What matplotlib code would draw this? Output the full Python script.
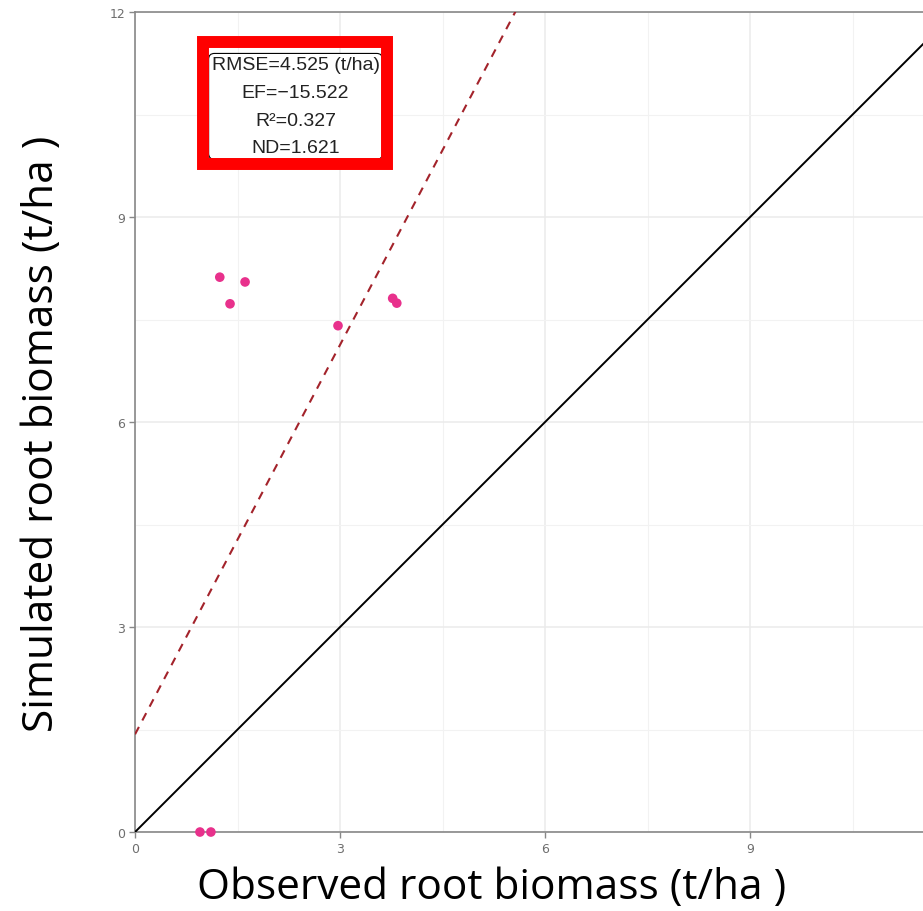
import matplotlib.pyplot as plt
import numpy as np
from matplotlib.patches import Rectangle

# observed vs simulated root biomass (t/ha)
obs = [1.24, 1.61, 1.39, 2.97, 3.77, 3.83, 0.95, 1.11]
sim = [8.12, 8.05, 7.73, 7.41, 7.81, 7.74, 0.0, 0.0]

# fitted line (dashed)
fit_intercept = 1.43
fit_slope = 1.90

stats_lines = ["RMSE=4.525 (t/ha)", "EF=\u221215.522", "R\u00b2=0.327", "ND=1.621"]
ticks = [0, 3, 6, 9, 12]
minor_ticks = [1.5, 4.5, 7.5, 10.5]

fig = plt.figure(figsize=(9.23, 9.12), dpi=100)
ax = fig.add_axes([0.1463, 0.0866, 0.8537, 0.8991])
ax.set_xlim(0, 11.53)
ax.set_ylim(0, 12)

ax.set_xticks(ticks[:4])
ax.set_yticks(ticks)
ax.set_xticks(minor_ticks, minor=True)
ax.set_yticks(minor_ticks, minor=True)
ax.grid(which='major', color='#ebebeb', lw=1.1)
ax.grid(which='minor', color='#f2f2f2', lw=0.8)
ax.set_axisbelow(True)
ax.tick_params(which='minor', length=0)
ax.tick_params(which='major', length=4, width=1, color='#888888',
               labelcolor='#6e6e6e', labelsize=9, pad=3)
for s in ['left', 'bottom', 'top']:
    ax.spines[s].set_color('#888888')
    ax.spines[s].set_linewidth(1.2)
ax.spines['right'].set_visible(False)

xx = np.array([0, 13])
ax.plot(xx, xx, color='black', lw=1.4, zorder=3)
ax.plot(xx, fit_intercept + fit_slope * xx, color='#a3232b', lw=1.5,
        ls=(0, (4, 3.5)), zorder=3)
ax.scatter(obs, sim, s=48, color='#e8318c', edgecolors='none', zorder=4,
           clip_on=False)

ax.text(0.2037, 0.885, "\n".join(stats_lines), transform=ax.transAxes,
        ha='center', va='center', fontsize=14, family='Liberation Sans',
        color='#222222', linespacing=1.82, zorder=5,
        bbox=dict(boxstyle='round,pad=0.15,rounding_size=0.3', fc='white',
                  ec='black', lw=0.8))
ax.add_patch(Rectangle((0.0863, 0.8146), 0.3198 - 0.0863, 0.9634 - 0.8146,
                       transform=ax.transAxes, fill=False, ec='#ff0000',
                       lw=8.6, zorder=6, clip_on=False))

fig.text(0.533, 0.0145, "Observed root biomass (t/ha )", ha='center',
         va='baseline', fontsize=30.5, family='Open Sans', color='black')
fig.text(0.046, 0.524, "Simulated root biomass (t/ha )", ha='center',
         va='center', rotation=90, fontsize=30.5, family='Open Sans',
         color='black')

fig.savefig('out.png', dpi=100)
